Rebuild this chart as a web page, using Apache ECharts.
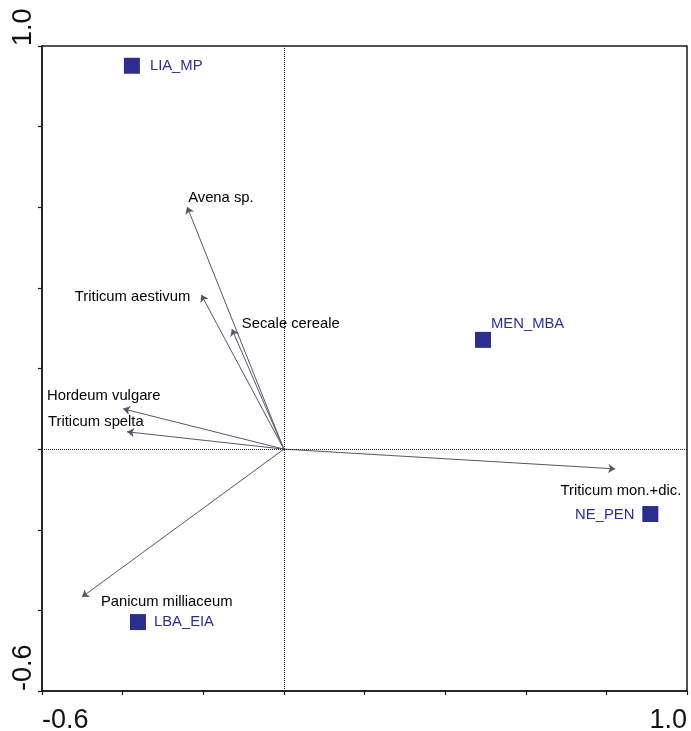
<!DOCTYPE html>
<html>
<head>
<meta charset="utf-8">
<script src="https://cdn.jsdelivr.net/npm/echarts@6/dist/echarts.min.js"></script>
<style>
  html, body { margin: 0; padding: 0; background: #fff; }
  #chart { width: 691px; height: 731px; }
</style>
</head>
<body>
<div id="chart"></div>
<script>
// ---- data ----
const axisMin = -0.6;
const axisMax = 1.0;
const tickStep = 0.2;
const axisTickLabels = ['-0.6', '1.0'];

const speciesNames = ['Avena sp.', 'Triticum aestivum', 'Secale cereale', 'Hordeum vulgare', 'Triticum spelta', 'Triticum mon.+dic.', 'Panicum milliaceum'];
const speciesX = [-0.240, -0.205, -0.129, -0.399, -0.389, 0.822, -0.501];
const speciesY = [0.601, 0.383, 0.298, 0.100, 0.043, -0.049, -0.367];

const siteNames = ['LIA_MP', 'MEN_MBA', 'NE_PEN', 'LBA_EIA'];
const siteX = [-0.377, 0.494, 0.909, -0.362];
const siteY = [0.951, 0.271, -0.161, -0.429];

// ---- label placement (style only) ----
const speciesLabelStyle = {
  'Avena sp.': { align: 'left', offset: [1, -9] },
  'Triticum aestivum': { align: 'right', offset: [-11, 2] },
  'Secale cereale': { align: 'left', offset: [10, -5] },
  'Hordeum vulgare': { align: 'left', offset: [-76, -13] },
  'Triticum spelta': { align: 'left', offset: [-79, -10] },
  'Triticum mon.+dic.': { align: 'right', offset: [66, 22] },
  'Panicum milliaceum': { align: 'left', offset: [19, 5] }
};
const siteLabelStyle = {
  'LIA_MP': { align: 'left', offset: [18, 0] },
  'MEN_MBA': { align: 'left', offset: [8, -16] },
  'NE_PEN': { align: 'right', offset: [-16, 1] },
  'LBA_EIA': { align: 'left', offset: [16, 0] }
};

const FONT = 'Liberation Sans, Arial, sans-serif';
const ARROW = '#55566a';
const SITE = '#2b2e8f';

function edgeLabel(v) {
  if (Math.abs(v - axisMin) < 1e-6) return axisTickLabels[0];
  if (Math.abs(v - axisMax) < 1e-6) return axisTickLabels[1];
  return '';
}

const arrowData = speciesNames.map((n, i) => ({ name: n, coords: [[0, 0], [speciesX[i], speciesY[i]]] }));

const speciesLabelData = speciesNames.map((n, i) => ({
  name: n,
  value: [speciesX[i], speciesY[i]],
  label: {
    show: true,
    position: 'inside',
    align: speciesLabelStyle[n].align,
    verticalAlign: 'middle',
    offset: speciesLabelStyle[n].offset
  }
}));

const siteData = siteNames.map((n, i) => ({
  name: n,
  value: [siteX[i], siteY[i]],
  label: {
    show: true,
    position: 'inside',
    align: siteLabelStyle[n].align,
    verticalAlign: 'middle',
    offset: siteLabelStyle[n].offset
  }
}));

const chart = echarts.init(document.getElementById('chart'), null, { renderer: 'canvas' });

chart.setOption({
  animation: false,
  backgroundColor: '#fff',
  grid: {
    left: 42, right: 4, top: 46, bottom: 40,
    containLabel: false,
    outerBoundsMode: 'none',
    show: true, borderColor: '#1a1a1a', borderWidth: 1.5, backgroundColor: 'transparent'
  },
  xAxis: {
    type: 'value', min: axisMin, max: axisMax, interval: tickStep,
    axisLine: { show: true, onZero: false, lineStyle: { color: '#1a1a1a', width: 1.5 } },
    axisTick: { show: true, length: 4, lineStyle: { color: '#1a1a1a', width: 1.2 } },
    splitLine: { show: false },
    axisLabel: {
      show: true, showMinLabel: true, showMaxLabel: true,
      formatter: edgeLabel,
      fontFamily: FONT, fontSize: 27, color: '#111',
      margin: 16,
      alignMinLabel: 'left', alignMaxLabel: 'right'
    }
  },
  yAxis: {
    type: 'value', min: axisMin, max: axisMax, interval: tickStep,
    axisLine: { show: true, onZero: false, lineStyle: { color: '#1a1a1a', width: 1.5 } },
    axisTick: { show: true, length: 4, lineStyle: { color: '#1a1a1a', width: 1.2 } },
    splitLine: { show: false },
    axisLabel: {
      show: true, showMinLabel: true, showMaxLabel: true,
      formatter: edgeLabel,
      fontFamily: FONT, fontSize: 27, color: '#111',
      rotate: 90, align: 'left', verticalAlign: 'bottom',
      margin: 5
    }
  },
  series: [
    {
      type: 'scatter',
      data: [],
      silent: true,
      markLine: {
        silent: true,
        symbol: ['none', 'none'],
        label: { show: false },
        lineStyle: { type: 'dotted', color: '#222', width: 1, opacity: 1 },
        data: [{ xAxis: 0 }, { yAxis: 0 }]
      }
    },
    {
      type: 'lines',
      coordinateSystem: 'cartesian2d',
      silent: true,
      symbol: ['none', 'arrow'],
      symbolSize: 7,
      lineStyle: { color: ARROW, width: 1, opacity: 1 },
      data: arrowData
    },
    {
      type: 'scatter',
      symbolSize: 0,
      silent: true,
      itemStyle: { color: 'transparent', opacity: 1 },
      label: { color: '#000', fontFamily: FONT, fontSize: 14.8, formatter: '{b}' },
      data: speciesLabelData
    },
    {
      type: 'scatter',
      symbol: 'rect',
      symbolSize: 16,
      silent: true,
      itemStyle: { color: SITE, opacity: 1 },
      label: { color: SITE, fontFamily: FONT, fontSize: 14.8, formatter: '{b}' },
      data: siteData
    }
  ]
});
</script>
</body>
</html>
